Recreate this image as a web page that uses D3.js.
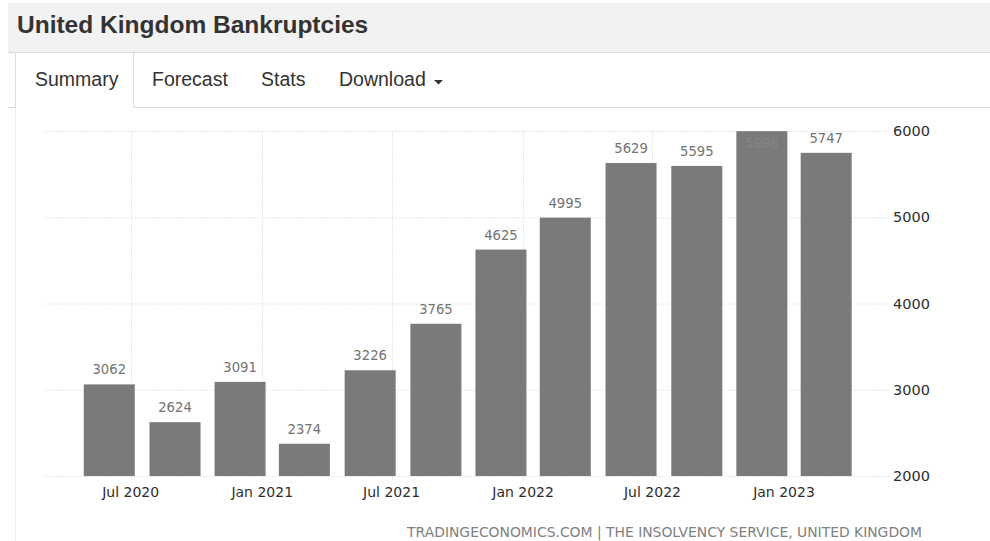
<!DOCTYPE html>
<html>
<head>
<meta charset="utf-8">
<script src="https://cdn.jsdelivr.net/npm/d3@7"></script>
<style>
  html, body { margin: 0; padding: 0; background: #fff; }
  svg { display: block; }
</style>
</head>
<body>
<svg id="chart" width="990" height="541"></svg>
<script>
// Quarterly bankruptcies, dated on the last month of each quarter
const periods = ["2020-06-01", "2020-09-01", "2020-12-01", "2021-03-01", "2021-06-01", "2021-09-01",
                 "2021-12-01", "2022-03-01", "2022-06-01", "2022-09-01", "2022-12-01", "2023-03-01"];
const bankruptcies = [3062, 2624, 3091, 2374, 3226, 3765, 4625, 4995, 5629, 5595, 5998, 5747];
const yTicks = [2000, 3000, 4000, 5000, 6000];
const tabs = ["Summary", "Forecast", "Stats", "Download"];
const titleText = "United Kingdom Bankruptcies";
const sourceText = "TRADINGECONOMICS.COM | THE INSOLVENCY SERVICE, UNITED KINGDOM";

const parse = d3.timeParse("%Y-%m-%d");
const data = periods.map((p, i) => ({ date: parse(p), value: bankruptcies[i] }));

const svg = d3.select("#chart");

// ---- page header ----
svg.append("rect").attr("x", 8).attr("y", 3).attr("width", 982).attr("height", 49).attr("fill", "#f2f2f2");
svg.append("line").attr("x1", 8).attr("x2", 990).attr("y1", 52.5).attr("y2", 52.5).attr("stroke", "#dcdcdc");
svg.append("text").attr("x", 17).attr("y", 33)
  .attr("font-family", "'Liberation Sans', Arial, sans-serif").attr("font-weight", "bold")
  .attr("font-size", "24.5px").attr("fill", "#333").text(titleText);

// ---- tabs ----
const tabX = [35, 152, 261, 339];
// page frame line and active tab outline
svg.append("line").attr("x1", 15.5).attr("x2", 15.5).attr("y1", 52).attr("y2", 541).attr("stroke", "#ececec");
svg.append("path").attr("d", "M15.5,53 V107.5 M133.5,53 V107.5 H990 M8,107.5 H15.5")
  .attr("fill", "none").attr("stroke", "#dddddd");
svg.selectAll("text.tab").data(tabs).join("text")
  .attr("class", "tab")
  .attr("x", (d, i) => tabX[i]).attr("y", 86)
  .attr("font-family", "'Liberation Sans', Arial, sans-serif")
  .attr("font-size", "19.5px").attr("fill", "#333").text(d => d);
svg.append("path").attr("d", "M434,80 h9 l-4.5,4.5 z").attr("fill", "#333");

// ---- chart ----
const plot = { left: 44, right: 890, top: 131, bottom: 476 };
const x = d3.scaleTime()
  .domain([parse("2020-07-01"), parse("2023-01-01")])
  .range([130.7, 784]);
const y = d3.scaleLinear().domain([2000, 6000]).range([plot.bottom, plot.top]);
const barW = 51;
const chartFont = "'DejaVu Sans', Verdana, sans-serif";

const xTicks = x.ticks(d3.timeMonth.every(6)).filter(d => x(d) > plot.left && x(d) < plot.right);

// grid
const grid = svg.append("g").attr("stroke", "#e8e8e8").attr("stroke-dasharray", "2,1");
grid.selectAll("line.h").data(yTicks).join("line").attr("class", "h")
  .attr("x1", plot.left).attr("x2", plot.right)
  .attr("y1", d => y(d) + 0.5).attr("y2", d => y(d) + 0.5);
grid.selectAll("line.v").data(xTicks).join("line").attr("class", "v")
  .attr("x1", d => Math.round(x(d)) + 0.5).attr("x2", d => Math.round(x(d)) + 0.5)
  .attr("y1", plot.top).attr("y2", plot.bottom + 4);

// bars
svg.append("g").selectAll("rect").data(data).join("rect")
  .attr("x", d => x(d.date) - barW / 2)
  .attr("y", d => y(d.value))
  .attr("width", barW)
  .attr("height", d => plot.bottom - y(d.value))
  .attr("fill", "#7a7a7a");

// value labels; a label that would leave the plot is tucked inside its bar
const inside = d => y(d.value) - 10 < plot.top + 2;
svg.append("g").selectAll("text").data(data).join("text")
  .attr("x", d => x(d.date))
  .attr("y", d => (inside(d) ? y(d.value) + 17 : y(d.value) - 10))
  .attr("text-anchor", "middle")
  .attr("font-family", chartFont).attr("font-size", "13.2px")
  .attr("fill", d => (inside(d) ? "#848484" : "#737373"))
  .text(d => d.value);

// x axis labels
const fmt = d3.timeFormat("%b %Y");
svg.append("g").selectAll("text").data(xTicks).join("text")
  .attr("x", d => x(d)).attr("y", 497)
  .attr("text-anchor", "middle")
  .attr("font-family", chartFont).attr("font-size", "14px").attr("fill", "#2e2e2e")
  .text(d => fmt(d));

// y axis labels on the right
svg.append("g").selectAll("text").data(yTicks).join("text")
  .attr("x", 893).attr("y", d => y(d) + 5)
  .attr("font-family", chartFont).attr("font-size", "14.5px").attr("fill", "#2e2e2e")
  .text(d => d);

// source line
svg.append("text").attr("x", 922).attr("y", 537).attr("text-anchor", "end")
  .attr("font-family", chartFont).attr("font-size", "13.9px").attr("fill", "#808080")
  .text(sourceText);
</script>
</body>
</html>
